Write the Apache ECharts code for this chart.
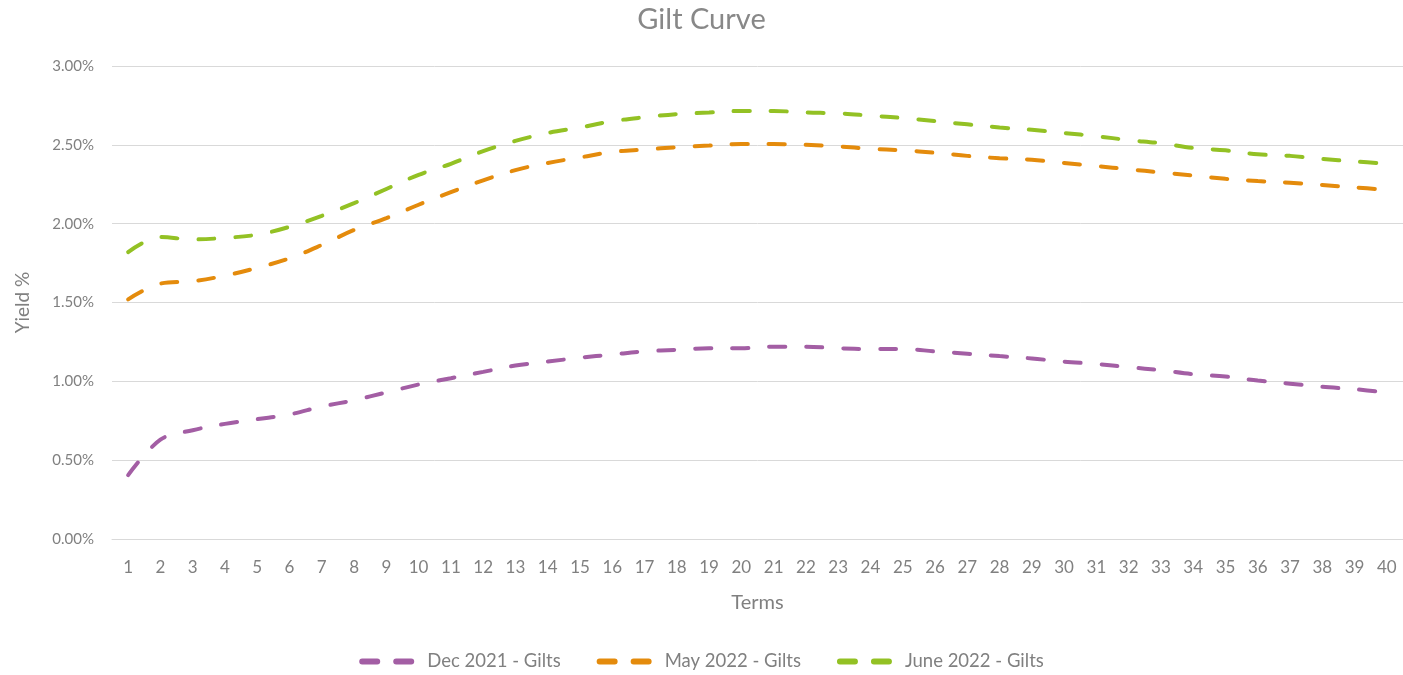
<!DOCTYPE html>
<html>
<head>
<meta charset="utf-8">
<title>Gilt Curve</title>
<script src="https://cdn.jsdelivr.net/npm/echarts@6/dist/echarts.min.js"></script>
<style>
  html, body { margin: 0; padding: 0; background: #fff; }
  #main { width: 1403px; height: 675px; }
</style>
</head>
<body>
<div id="main"></div>
<script>
// terms 1..40
var terms = [];
for (var t = 1; t <= 40; t++) terms.push(String(t));

var seriesNames = ['Dec 2021 - Gilts', 'May 2022 - Gilts', 'June 2022 - Gilts'];

// yields in %
var dec2021 = [0.405, 0.63, 0.69, 0.73, 0.76, 0.79, 0.84, 0.88, 0.93, 0.98,
               1.02, 1.06, 1.10, 1.125, 1.15, 1.17, 1.19, 1.20, 1.21, 1.21,
               1.22, 1.22, 1.21, 1.205, 1.205, 1.19, 1.175, 1.16, 1.145, 1.125,
               1.11, 1.09, 1.07, 1.045, 1.03, 1.005, 0.985, 0.965, 0.95, 0.93];
var may2022 = [1.52, 1.62, 1.635, 1.67, 1.72, 1.78, 1.865, 1.96, 2.035, 2.12,
               2.20, 2.275, 2.34, 2.385, 2.42, 2.455, 2.47, 2.485, 2.495, 2.505,
               2.505, 2.50, 2.49, 2.475, 2.465, 2.45, 2.43, 2.415, 2.405, 2.385,
               2.365, 2.345, 2.325, 2.305, 2.285, 2.27, 2.26, 2.245, 2.23, 2.215];
var june2022 = [1.82, 1.915, 1.90, 1.91, 1.93, 1.98, 2.05, 2.13, 2.22, 2.31,
                2.38, 2.46, 2.525, 2.575, 2.61, 2.65, 2.675, 2.695, 2.705, 2.715,
                2.715, 2.705, 2.70, 2.685, 2.67, 2.65, 2.63, 2.61, 2.595, 2.575,
                2.555, 2.53, 2.51, 2.48, 2.465, 2.44, 2.43, 2.41, 2.395, 2.38];

var colors = ['#a35ea4', '#e48b0c', '#93c124'];
var textColor = '#808080';
var font = 'Lato, "Noto Sans", sans-serif';

// two rounded dashes for the legend
var dashIcon = 'path://M3,0 h15 a3,3 0 0 1 0,6 h-15 a3,3 0 0 1 0,-6 z M37,0 h15 a3,3 0 0 1 0,6 h-15 a3,3 0 0 1 0,-6 z';

var myChart = echarts.init(document.getElementById('main'));

function lineSeries(name, data, color) {
    return {
        name: name,
        type: 'line',
        data: data,
        smooth: 0.35,
        symbol: 'none',
        lineStyle: { color: color, width: 4, type: [16, 21], cap: 'round' },
        itemStyle: { color: color }
    };
}

var option = {
    animation: false,
    textStyle: { fontFamily: font },
    title: {
        text: 'Gilt Curve',
        left: 'center',
        top: 0,
        textStyle: { color: '#888888', fontSize: 29, fontWeight: 'normal', fontFamily: font }
    },
    legend: {
        data: seriesNames.map(function (n) { return { name: n, icon: dashIcon }; }),
        bottom: -1,
        left: 'center',
        itemWidth: 55,
        itemHeight: 6,
        itemGap: 36,
        textStyle: { color: textColor, fontSize: 18.5, fontFamily: font, padding: [0, 0, 0, 8] }
    },
    grid: { left: 112, top: 66, width: 1292, height: 473, containLabel: false },
    xAxis: {
        type: 'category',
        data: terms,
        boundaryGap: true,
        name: 'Terms',
        nameLocation: 'middle',
        nameGap: 54,
        nameTextStyle: { color: textColor, fontSize: 20, fontFamily: font },
        axisLine: { show: true, lineStyle: { color: '#d9d9d9' } },
        axisTick: { show: false },
        axisLabel: { color: textColor, fontSize: 17, margin: 20, interval: 0, fontFamily: font }
    },
    yAxis: {
        type: 'value',
        min: 0,
        max: 3,
        interval: 0.5,
        name: 'Yield %',
        nameLocation: 'middle',
        nameGap: 80,
        nameTextStyle: { color: textColor, fontSize: 19, fontFamily: font },
        axisLine: { show: false },
        axisTick: { show: false },
        splitLine: { lineStyle: { color: '#d9d9d9', width: 1 } },
        axisLabel: {
            color: textColor, fontSize: 15, margin: 18, fontFamily: font,
            formatter: function (v) { return v.toFixed(2) + '%'; }
        }
    },
    series: [
        lineSeries(seriesNames[0], dec2021, colors[0]),
        lineSeries(seriesNames[1], may2022, colors[1]),
        lineSeries(seriesNames[2], june2022, colors[2])
    ]
};

myChart.setOption(option);
</script>
</body>
</html>
